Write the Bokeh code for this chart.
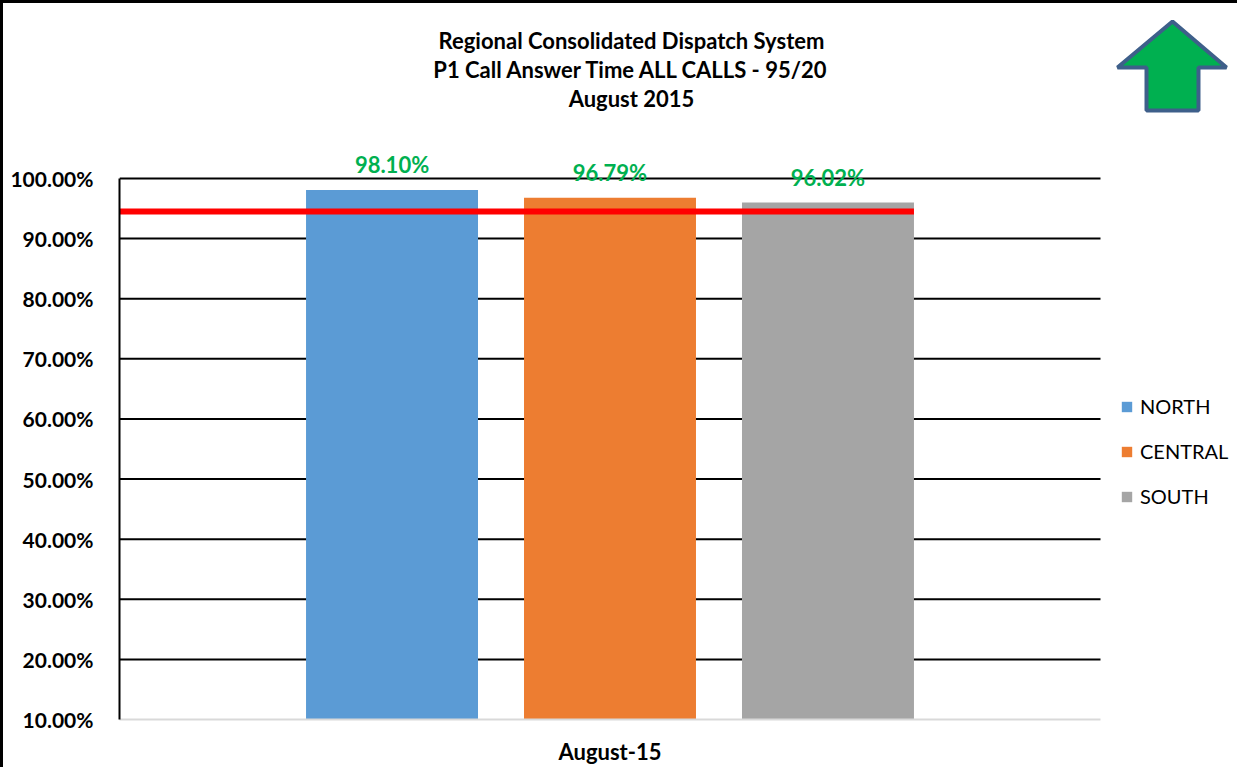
from bokeh.plotting import figure
from bokeh.models import (Range1d, FixedTicker, Label, PolyAnnotation,
                          Legend, LegendItem, ColumnDataSource, PrintfTickFormatter)
from bokeh.embed import file_html
from bokeh.resources import INLINE
from bokeh.core.properties import value

# ---------------- data ----------------
months = ["August-15"]
regions = ["NORTH", "CENTRAL", "SOUTH"]
answer_pct = [98.10, 96.79, 96.02]
bar_colors = ["#5B9BD5", "#ED7D31", "#A5A5A5"]
target_pct = 94.5
y_ticks = [10, 20, 30, 40, 50, 60, 70, 80, 90, 100]
title_lines = ["Regional Consolidated Dispatch System",
               "P1 Call Answer Time ALL CALLS - 95/20",
               "August 2015"]

# ---------------- layout (picture pixels) ----------------
FONT = "Lato"
BORDER = 3
AX_LEFT_PX, AX_RIGHT_PX = 119, 1100     # plot-area extent (x = 0 .. 1)
Y10_PX, Y100_PX = 719, 178               # 10% and 100% gridlines
FRAME_TOP_PX, FRAME_RIGHT_PX = 10, 1234
PX_PER_X = AX_RIGHT_PX - AX_LEFT_PX
PX_PER_PCT = (Y10_PX - Y100_PX) / 90.0

frame_w = FRAME_RIGHT_PX - AX_LEFT_PX
frame_h = Y10_PX - FRAME_TOP_PX
X_END = frame_w / PX_PER_X
Y_END = 10 + frame_h / PX_PER_PCT

def dx(px):
    return (px - AX_LEFT_PX) / PX_PER_X

def dy(py):
    return 10 + (Y10_PX - py) / PX_PER_PCT

p = figure(frame_width=frame_w, frame_height=frame_h,
           x_range=Range1d(0, X_END), y_range=Range1d(10, Y_END),
           output_backend="svg", toolbar_location=None,
           min_border_left=AX_LEFT_PX - BORDER, min_border_right=3,
           min_border_top=FRAME_TOP_PX - BORDER, min_border_bottom=44)
p.outline_line_color = None
p.background_fill_color = "white"
p.border_fill_color = "white"
p.styles = {"border-left": "3px solid black", "border-top": "3px solid black"}

# grid lines drawn only across the plot area
p.xgrid.grid_line_color = None
p.ygrid.grid_line_color = None
grid_y = y_ticks[1:]
p.segment(x0=[0] * len(grid_y), x1=[1] * len(grid_y), y0=grid_y, y1=grid_y,
          line_color="black", line_width=2)

# y axis
p.yaxis.ticker = FixedTicker(ticks=y_ticks)
p.yaxis.bounds = (10, 100)
p.yaxis.formatter = PrintfTickFormatter(format="%.2f%%")
p.yaxis.axis_line_color = "black"
p.yaxis.axis_line_width = 2
p.yaxis.major_tick_line_color = None
p.yaxis.minor_tick_line_color = None
p.yaxis.major_label_standoff = 20
p.yaxis.major_label_text_font = FONT
p.yaxis.major_label_text_font_style = "bold"
p.yaxis.major_label_text_font_size = "21px"
p.yaxis.major_label_text_color = "black"

# x axis (one category, centred in the plot area)
cat_pos = [0.5 + i for i in range(len(months))]
p.xaxis.ticker = FixedTicker(ticks=cat_pos)
p.xaxis.major_label_overrides = {c: m for c, m in zip(cat_pos, months)}
p.xaxis.bounds = (0, 1)
p.xaxis.axis_line_color = "#D9D9D9"
p.xaxis.axis_line_width = 2
p.xaxis.major_tick_line_color = None
p.xaxis.minor_tick_line_color = None
p.xaxis.major_label_standoff = 12
p.xaxis.major_label_text_font = FONT
p.xaxis.major_label_text_font_style = "bold"
p.xaxis.major_label_text_font_size = "22px"
p.xaxis.major_label_text_color = "black"

# bars + data labels
offsets = [-0.2222, 0.0, 0.2222]
bar_w = 0.1753
items = []
for i, r in enumerate(regions):
    src = ColumnDataSource(dict(x=[cat_pos[0] + offsets[i]], pct=[answer_pct[i]],
                                label=["%.2f%%" % answer_pct[i]]))
    rend = p.vbar(x="x", top="pct", bottom=10, width=bar_w, source=src,
                  fill_color=bar_colors[i], line_color=None)
    items.append(LegendItem(label=r, renderers=[rend]))
    p.text(x="x", y="pct", text="label", source=src, y_offset=-25,
           text_align="center", text_baseline="middle", text_color="#00B050",
           text_font=value(FONT), text_font_style="bold", text_font_size="22px")

# target line
p.segment(x0=[0], y0=[target_pct], x1=[cat_pos[0] + offsets[2] + bar_w / 2],
          y1=[target_pct], line_color="#FF0000", line_width=6)

# title
for k, t in enumerate(title_lines):
    p.add_layout(Label(x=dx(631), y=dy(40 + 29 * k), text=t, text_align="center",
                       text_baseline="middle", text_font=FONT, text_font_style="bold",
                       text_font_size="22px", text_color="black"))

# arrow
ax = [1172, 1117, 1146, 1146, 1198, 1198, 1226]
ay = [21, 67, 67, 110, 110, 67, 67]
p.add_layout(PolyAnnotation(xs=[dx(v) for v in ax], ys=[dy(v) for v in ay],
                            fill_color="#00B050", fill_alpha=1.0,
                            line_color="#3E5F8A", line_alpha=1.0, line_width=4))

# legend
legend = Legend(items=items, location=(1120 - AX_LEFT_PX, Y10_PX - 508),
                orientation="vertical", glyph_width=13, glyph_height=13,
                label_height=24, spacing=21, label_standoff=7, padding=0, margin=0,
                border_line_color=None, background_fill_alpha=0,
                label_text_font=FONT, label_text_font_size="20px",
                label_text_color="black")
p.add_layout(legend, "center")

open("out.html", "w").write(file_html(p, INLINE))
